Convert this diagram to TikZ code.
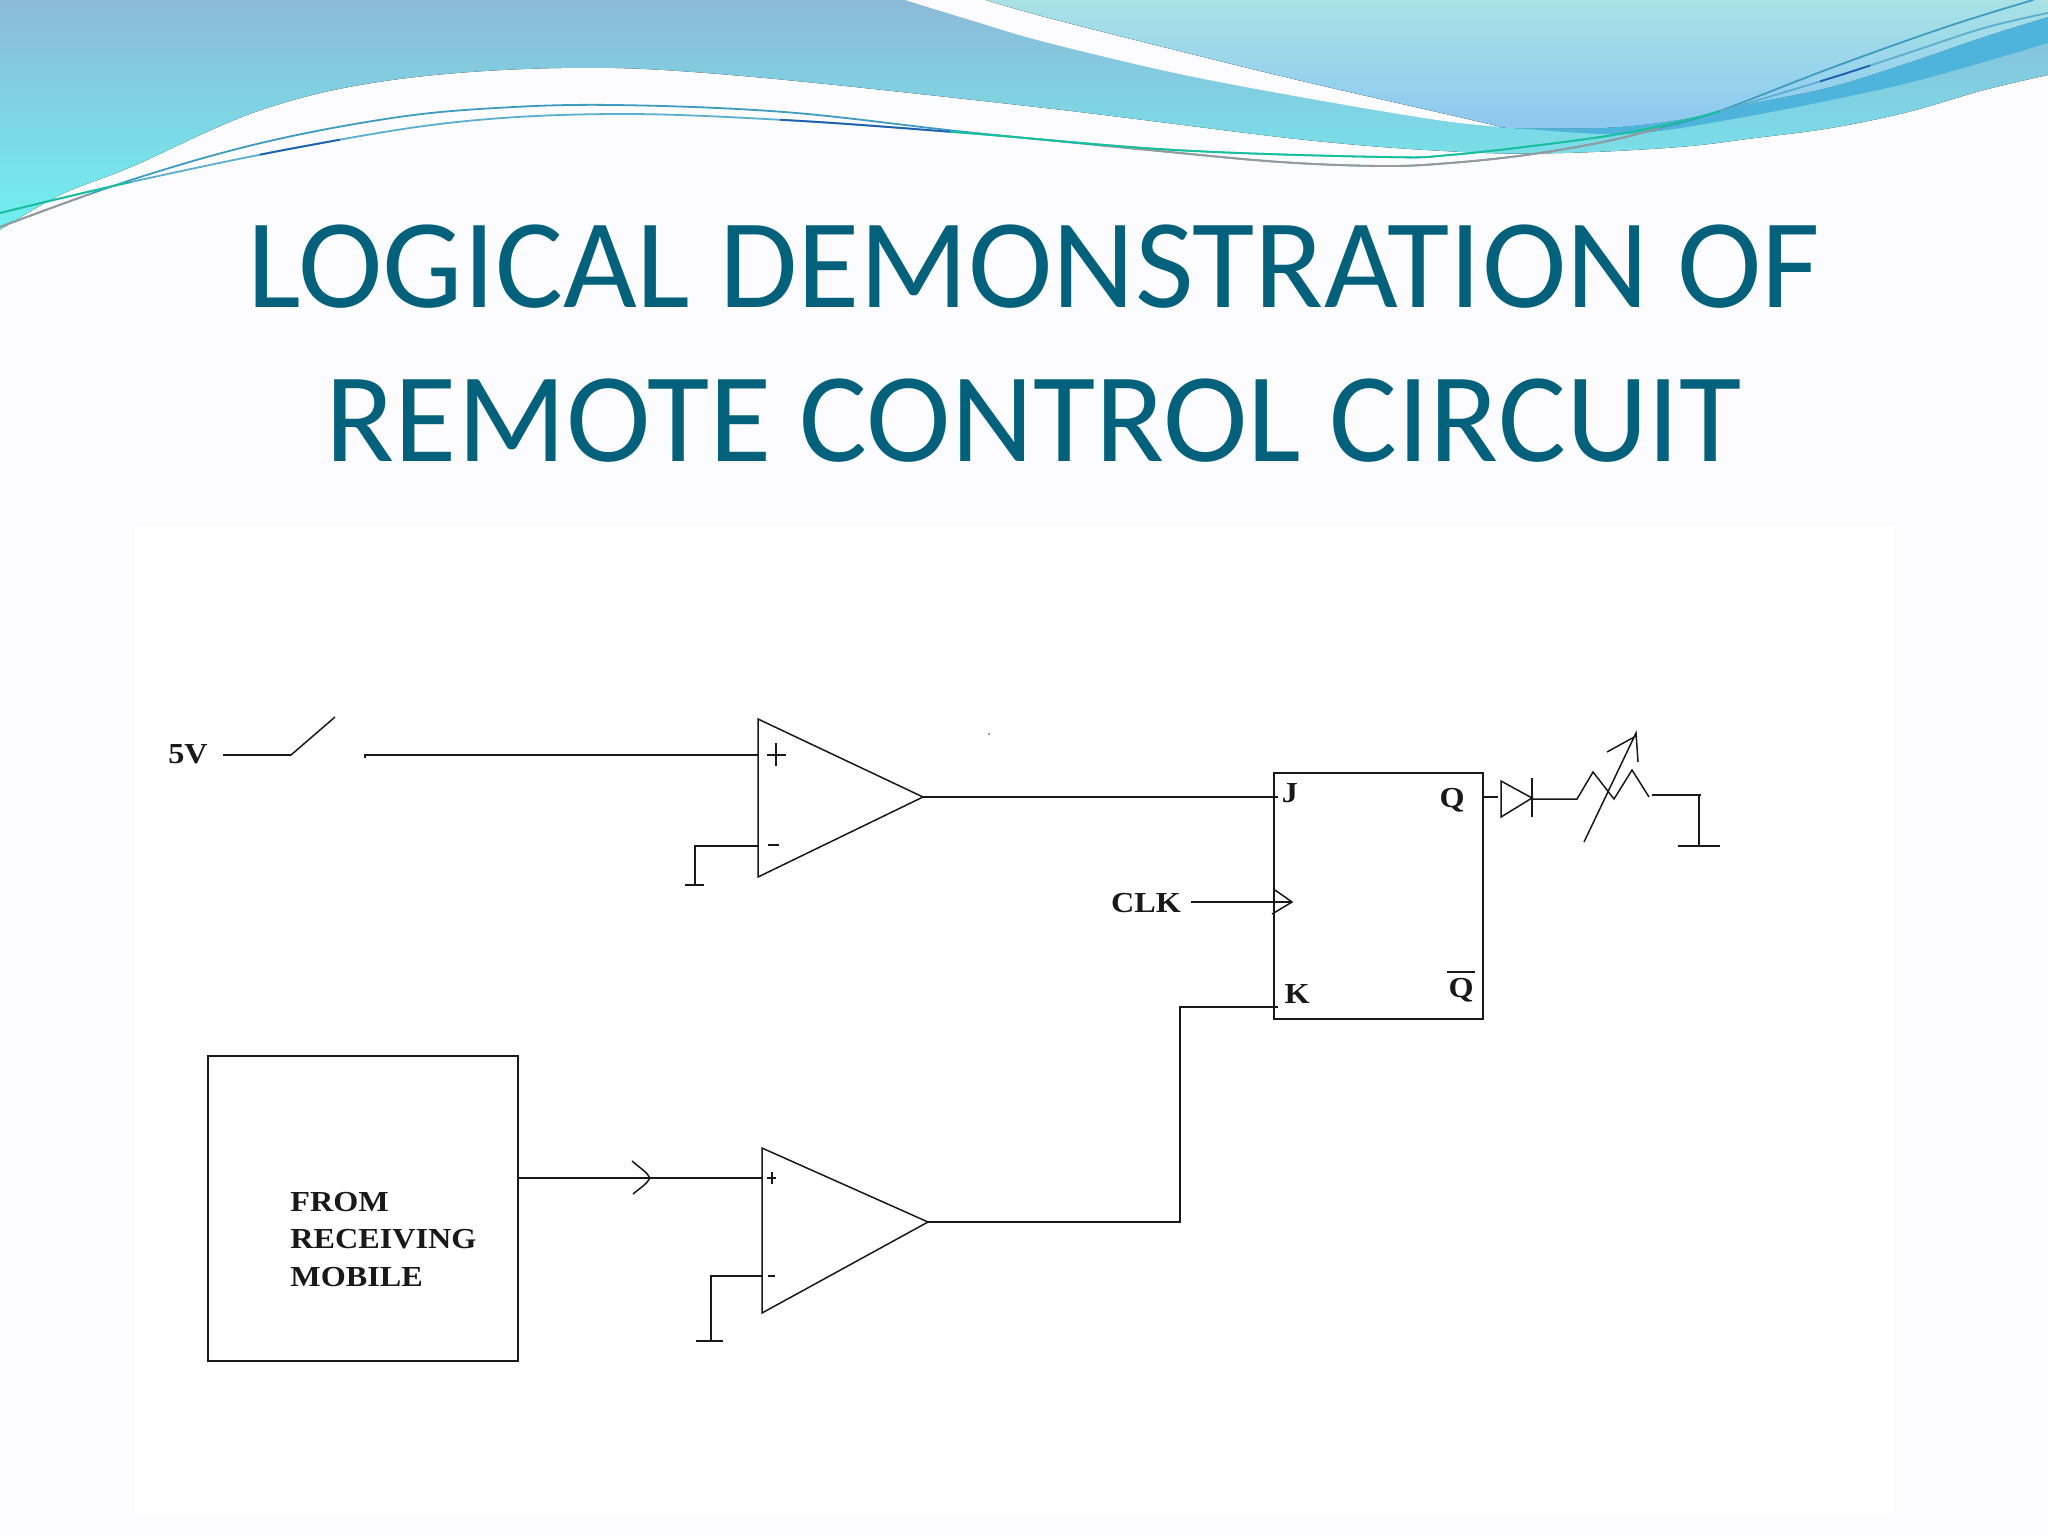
\documentclass[tikz,border=0pt]{standalone}
\usepackage{fontspec}
\setmainfont{Liberation Serif}
\newfontfamily\titlefont{Carlito}
\newfontfamily\labelfont[FakeStretch=1.11]{Liberation Serif}
\definecolor{pagebg}{HTML}{FCFCFE}
\definecolor{titleblue}{HTML}{04617B}
\definecolor{waveatop}{HTML}{8CBAD8}
\definecolor{wavebot}{HTML}{70F0F0}
\definecolor{wavebtop}{HTML}{A8E2E6}
\definecolor{wavebbot}{HTML}{8CC8F0}
\definecolor{waveband}{HTML}{4FB4DC}
\definecolor{lineteal}{HTML}{3E9CC0}
\definecolor{lineblue}{HTML}{5AAED0}
\definecolor{linedark}{HTML}{1F5FB0}
\definecolor{linegreen}{HTML}{12C29A}
\tikzset{
  wire/.style={line width=.9pt,black!90},
  thin wire/.style={line width=.75pt,black!90},
  boxnode/.style={draw=black!90,line width=.9pt,inner sep=0pt,outer sep=0pt,fill=white},
  lbl/.style={inner sep=0pt,font=\labelfont\bfseries\fontsize{14.5}{18}\selectfont,text=black!90},
  titletext/.style={inner sep=0pt,anchor=base,text=titleblue,font=\titlefont\fontsize{63.7}{77}\selectfont},
  swoosh/.style={line width=.9pt,line cap=round},
  smoothplot/.style={smooth,tension=.6}
}
\newcommand\swP[1]{\draw[swoosh,color=#1] plot[smoothplot] coordinates {(0,227) (131,180) (261,143) (392,118) (496,108) (614,105) (784,112) (966,132) (1149,150) (1280,162) (1384,166) (1450,163) (1526,155) (1603,142) (1660,128) (1717,112) (1831,68) (1946,27) (2033,0)};}
\newcommand\swQ[1]{\draw[swoosh,color=#1] plot[smoothplot] coordinates {(0,213) (131,182) (300,147) (457,122) (614,114) (784,120) (966,133) (1175,150) (1384,157) (1450,155) (1564,142) (1641,130) (1717,112) (1831,78) (1908,53) (1984,28) (2048,13)};}
\newcommand\swClip[3]{\begin{scope}\clip (#1,0) rectangle (#2,260); #3 \end{scope}}
\begin{document}
\begin{tikzpicture}[x=.5pt,y=-.5pt]
\useasboundingbox (0,0) rectangle (2048,1536);
\fill[pagebg] (0,0) rectangle (2048,1536);
% header waves
\fill[top color=waveatop,bottom color=wavebot] (0,0) -- (2048,0) -- (2048,75)
  -- plot[smoothplot] coordinates {(2048,75) (1984,90) (1908,112) (1831,128) (1755,138) (1679,147) (1564,153) (1463,152) (1306,140) (1045,108) (731,75) (562,68) (392,80) (261,110) (131,167) (60,195) (0,230)} -- cycle;
\fill[pagebg] (905,0) -- plot[smoothplot] coordinates {(905,0) (980,23) (1045,42) (1175,73) (1306,98) (1437,120) (1502,127)} -- plot[smoothplot] coordinates {(1502,127) (1437,112) (1306,82) (1175,50) (1045,17) (986,0)} -- cycle;
\fill[top color=wavebtop,bottom color=wavebbot] (986,0) -- (2048,0) -- (2048,17)
  -- plot[smoothplot] coordinates {(2048,17) (1984,37) (1908,63) (1831,87) (1755,103) (1679,120) (1603,128) (1515,128) (1502,127)}
  -- plot[smoothplot] coordinates {(1502,127) (1437,112) (1306,82) (1175,50) (1045,17) (986,0)} -- cycle;
\fill[waveband] plot[smoothplot] coordinates {(1515,128) (1603,128) (1679,120) (1755,103) (1831,87) (1908,63) (1984,37) (2048,17)}
  -- plot[smoothplot] coordinates {(2048,43) (1984,62) (1908,83) (1831,100) (1755,115) (1660,131) (1603,134) (1515,128)} -- cycle;
% swoosh lines
\begin{scope}
\clip (0,0) rectangle (2048,260);
\swP{lineteal}
\swQ{lineblue}
\swClip{1100}{1660}{\swP{gray!80}}
\swClip{0}{90}{\swP{gray!80}}
\swClip{0}{130}{\swQ{linegreen}}
\swClip{260}{340}{\swQ{linedark}}
\swClip{780}{950}{\swQ{linedark}}
\swClip{950}{1720}{\swQ{linegreen}}
\swClip{1820}{1870}{\swQ{linedark}}
\end{scope}
% title
\node[titletext] (title1) at (1034,307) {LOGICAL DEMONSTRATION OF};
\node[titletext] (title2) at (1034,461) {REMOTE CONTROL CIRCUIT};
% picture panel
\fill[white] (135,526) rectangle (1894,1515);
% flip-flop
\node[boxnode,anchor=north west,minimum width=104.5pt,minimum height=123pt] (ff) at (1274,773) {};
\node[lbl,anchor=center] (lj) at (1290,793) {J};
\node[lbl,anchor=center] (lq) at (1452,800) {Q};
\node[lbl,anchor=center] (lk) at (1297,994) {K};
\node[lbl,anchor=center] (lqb) at (1461,990) {Q};
\coordinate (qbarl) at (1447,972); \coordinate (qbarr) at (1475,972);
\draw[thin wire] (qbarl) -- (qbarr);
\node[lbl,anchor=center] (lclk) at (1146,903) {CLK};
\coordinate (clkstart) at (1191,902); \coordinate (clktip) at (1292,902);
\coordinate (clka) at (1275,890); \coordinate (clkb) at (1272,914);
\draw[thin wire] (clkstart) -- (clktip);
\draw[thin wire] (clka) -- (clktip) -- (clkb);
% source
\node[lbl,anchor=center] (l5v) at (188,754) {5V};
\coordinate (s0) at (223,755); \coordinate (s1) at (291,755); \coordinate (s2) at (335,717);
\coordinate (s3) at (365,755); \coordinate (s3t) at (365,758);
\draw[wire] (s0) -- (s1);
\draw[thin wire] (s1) -- (s2);
% op-amp 1
\coordinate (a1t) at (758,719); \coordinate (a1b) at (758,877); \coordinate (a1o) at (923,797);
\coordinate (a1p) at (758,755); \coordinate (a1m) at (758,846);
\draw[thin wire] (a1t) -- (a1b) -- (a1o) -- cycle;
\draw[wire] (s3t) -- (s3) -- (a1p);
\coordinate (jin) at (1278,797);
\draw[wire] (a1o) -- (jin);
\coordinate (g1a) at (695,846); \coordinate (g1b) at (695,885); \coordinate (g1l) at (685,885); \coordinate (g1r) at (704,885);
\draw[thin wire] (a1m) -- (g1a) -- (g1b); \draw[thin wire] (g1l) -- (g1r);
\coordinate (p1l) at (767,755); \coordinate (p1r) at (786,755); \coordinate (p1t) at (776,743); \coordinate (p1d) at (776,766);
\draw[thin wire] (p1l) -- (p1r); \draw[thin wire] (p1t) -- (p1d);
\coordinate (m1l) at (768,845); \coordinate (m1r) at (779,845);
\draw[wire] (m1l) -- (m1r);
% speck
\fill[black!60] (989,734) circle[radius=1];
% receiver box
\node[boxnode,anchor=north west,minimum width=155pt,minimum height=152.5pt] (src) at (208,1056) {};
\node[lbl,anchor=base west] (t1) at (290,1211) {FROM};
\node[lbl,anchor=base west] (t2) at (290,1248) {RECEIVING};
\node[lbl,anchor=base west] (t3) at (290,1286) {MOBILE};
\coordinate (a2t) at (762,1148); \coordinate (a2b) at (762,1313); \coordinate (a2o) at (928,1222);
\coordinate (a2p) at (762,1178); \coordinate (a2m) at (762,1276);
\draw[thin wire] (a2t) -- (a2b) -- (a2o) -- cycle;
\coordinate (srco) at (src.east |- a2p);
\draw[wire] (srco) -- (a2p);
\coordinate (arra) at (632,1161); \coordinate (arrt) at (650,1178); \coordinate (arrb) at (633,1194);
\draw[thin wire] (arra) .. controls (640,1168) and (647,1172) .. (arrt) .. controls (647,1184) and (640,1188) .. (arrb);
\coordinate (p2l) at (767,1178); \coordinate (p2r) at (776,1178); \coordinate (p2t) at (772,1172); \coordinate (p2d) at (772,1184);
\draw[thin wire] (p2l) -- (p2r); \draw[thin wire] (p2t) -- (p2d);
\coordinate (m2l) at (768,1276); \coordinate (m2r) at (775,1276);
\draw[thin wire] (m2l) -- (m2r);
\coordinate (g2a) at (711,1276); \coordinate (g2b) at (711,1341); \coordinate (g2l) at (696,1341); \coordinate (g2r) at (723,1341);
\draw[thin wire] (a2m) -- (g2a) -- (g2b); \draw[wire] (g2l) -- (g2r);
\coordinate (kc) at (1180,1222); \coordinate (ku) at (1180,1007); \coordinate (kin) at (1278,1007);
\draw[thin wire] (a2o) -- (kc) -- (ku) -- (kin);
% output chain
\coordinate (qo) at (1483,797); \coordinate (do) at (1498,797);
\draw[thin wire] (qo) -- (do);
\coordinate (d1) at (1501,781); \coordinate (d2) at (1501,817); \coordinate (d3) at (1532,798);
\coordinate (d4) at (1532,778); \coordinate (d5) at (1532,817);
\draw[thin wire] (d1) -- (d3) -- (d2) -- cycle;
\draw[thin wire] (d4) -- (d5);
\coordinate (r0) at (1532,799); \coordinate (r1) at (1577,799); \coordinate (r2) at (1593,772);
\coordinate (r3) at (1614,799); \coordinate (r4) at (1632,770); \coordinate (r5) at (1649,797);
\draw[thin wire] (r0) -- (r1) -- (r2) -- (r3) -- (r4) -- (r5);
\coordinate (v0) at (1584,842); \coordinate (v1) at (1636,733); \coordinate (v2) at (1607,752); \coordinate (v3) at (1636,736); \coordinate (v4) at (1638,762);
\draw[thin wire] (v0) -- (v1) -- (v4);
\draw[thin wire] (v2) -- (v3);
\coordinate (g3a) at (1652,795); \coordinate (g3b) at (1701,795); \coordinate (g3c) at (1699,795); \coordinate (g3d) at (1699,846);
\coordinate (g3l) at (1678,846); \coordinate (g3r) at (1720,846);
\draw[thin wire] (g3a) -- (g3b); \draw[thin wire] (g3c) -- (g3d); \draw[thin wire] (g3l) -- (g3r);
\end{tikzpicture}
\end{document}
